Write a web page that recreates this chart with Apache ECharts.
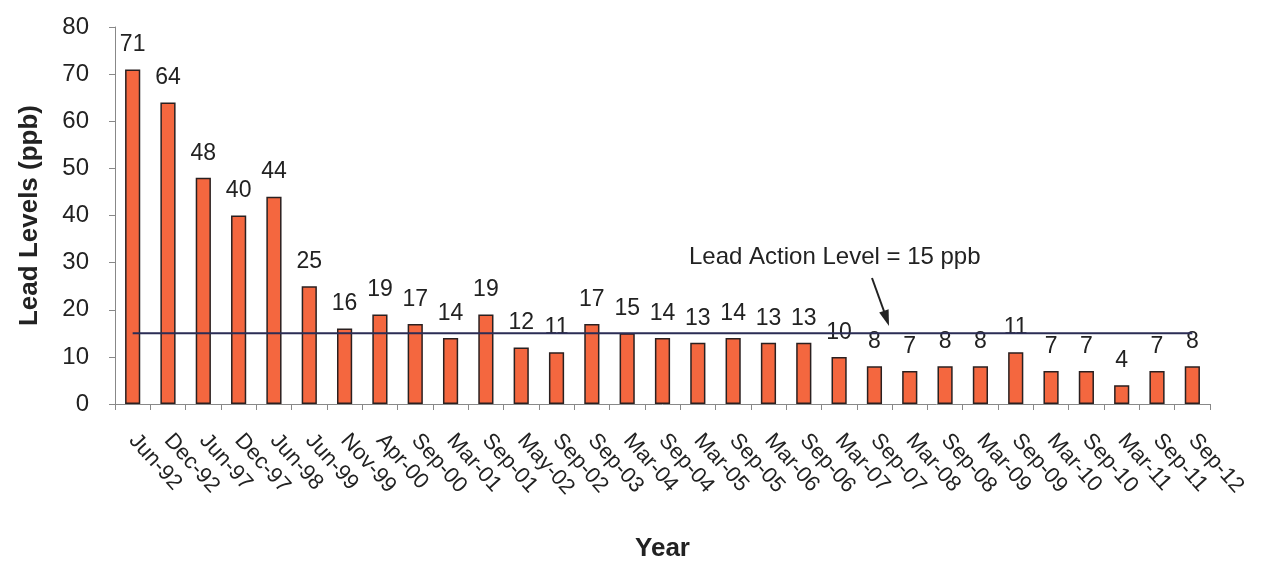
<!DOCTYPE html>
<html>
<head>
<meta charset="utf-8">
<style>html,body{margin:0;padding:0;background:#fff;}#c{width:1265px;height:571px;}</style>
<script src="https://cdn.jsdelivr.net/npm/echarts@6/dist/echarts.min.js"></script>
</head>
<body>
<div id="c"></div>
<script>
const categories = ["Jun-92","Dec-92","Jun-97","Dec-97","Jun-98","Jun-99","Nov-99","Apr-00","Sep-00","Mar-01","Sep-01","May-02","Sep-02","Sep-03","Mar-04","Sep-04","Mar-05","Sep-05","Mar-06","Sep-06","Mar-07","Sep-07","Mar-08","Sep-08","Mar-09","Sep-09","Mar-10","Sep-10","Mar-11","Sep-11","Sep-12"];
const leadLevels = [71,64,48,40,44,25,16,19,17,14,19,12,11,17,15,14,13,14,13,13,10,8,7,8,8,11,7,7,4,7,8];
const actionLevel = 15;
const yTicks = [0,10,20,30,40,50,60,70,80];

const FONT = "Liberation Sans, Arial, sans-serif";
const chart = echarts.init(document.getElementById('c'));
chart.setOption({
  animation: false,
  backgroundColor: '#ffffff',
  grid: { left: 115, right: 55, top: 27, bottom: 167, containLabel: false },
  xAxis: {
    type: 'category',
    data: categories,
    boundaryGap: true,
    name: 'Year',
    nameLocation: 'middle',
    nameGap: 132,
    nameTextStyle: { fontFamily: FONT, fontSize: 26, fontWeight: 'bold', color: '#222' },
    axisLine: { lineStyle: { color: '#888', width: 1 } },
    axisTick: { show: true, alignWithLabel: false, length: 6, lineStyle: { color: '#888' } },
    axisLabel: { rotate: -48, interval: 0, fontFamily: FONT, fontSize: 22, color: '#222', margin: 33 }
  },
  yAxis: {
    type: 'value',
    min: yTicks[0],
    max: yTicks[yTicks.length - 1],
    interval: 10,
    name: 'Lead Levels (ppb)',
    nameLocation: 'middle',
    nameGap: 72,
    nameTextStyle: { fontFamily: FONT, fontSize: 26, fontWeight: 'bold', color: '#222' },
    axisLine: { show: true, lineStyle: { color: '#888', width: 1 } },
    axisTick: { show: true, length: 6, lineStyle: { color: '#888' } },
    splitLine: { show: false },
    axisLabel: { fontFamily: FONT, fontSize: 24, color: '#222', margin: 26 }
  },
  series: [
    {
      type: 'bar',
      data: leadLevels,
      barWidth: '43%',
      itemStyle: { color: '#f4673f', borderColor: '#2a2020', borderWidth: 1.5 },
      label: { show: true, position: 'top', distance: 13, fontFamily: FONT, fontSize: 23, color: '#222' },
      z: 2
    },
    {
      type: 'line',
      data: categories.map(() => actionLevel),
      symbol: 'none',
      lineStyle: { color: '#2b2d55', width: 2 },
      z: 3,
      silent: true
    }
  ],
  graphic: [
    { type: 'text', left: 689, top: 245, style: { text: 'Lead Action Level = 15 ppb', fontFamily: FONT, fontSize: 24, fill: '#222' } },
    { type: 'line', shape: { x1: 872, y1: 278, x2: 885, y2: 314 }, style: { stroke: '#222', lineWidth: 2 } },
    { type: 'polygon', shape: { points: [[889, 326], [888.6, 309.2], [879.2, 312.4]] }, style: { fill: '#222' } }
  ]
});
</script>
</body>
</html>
